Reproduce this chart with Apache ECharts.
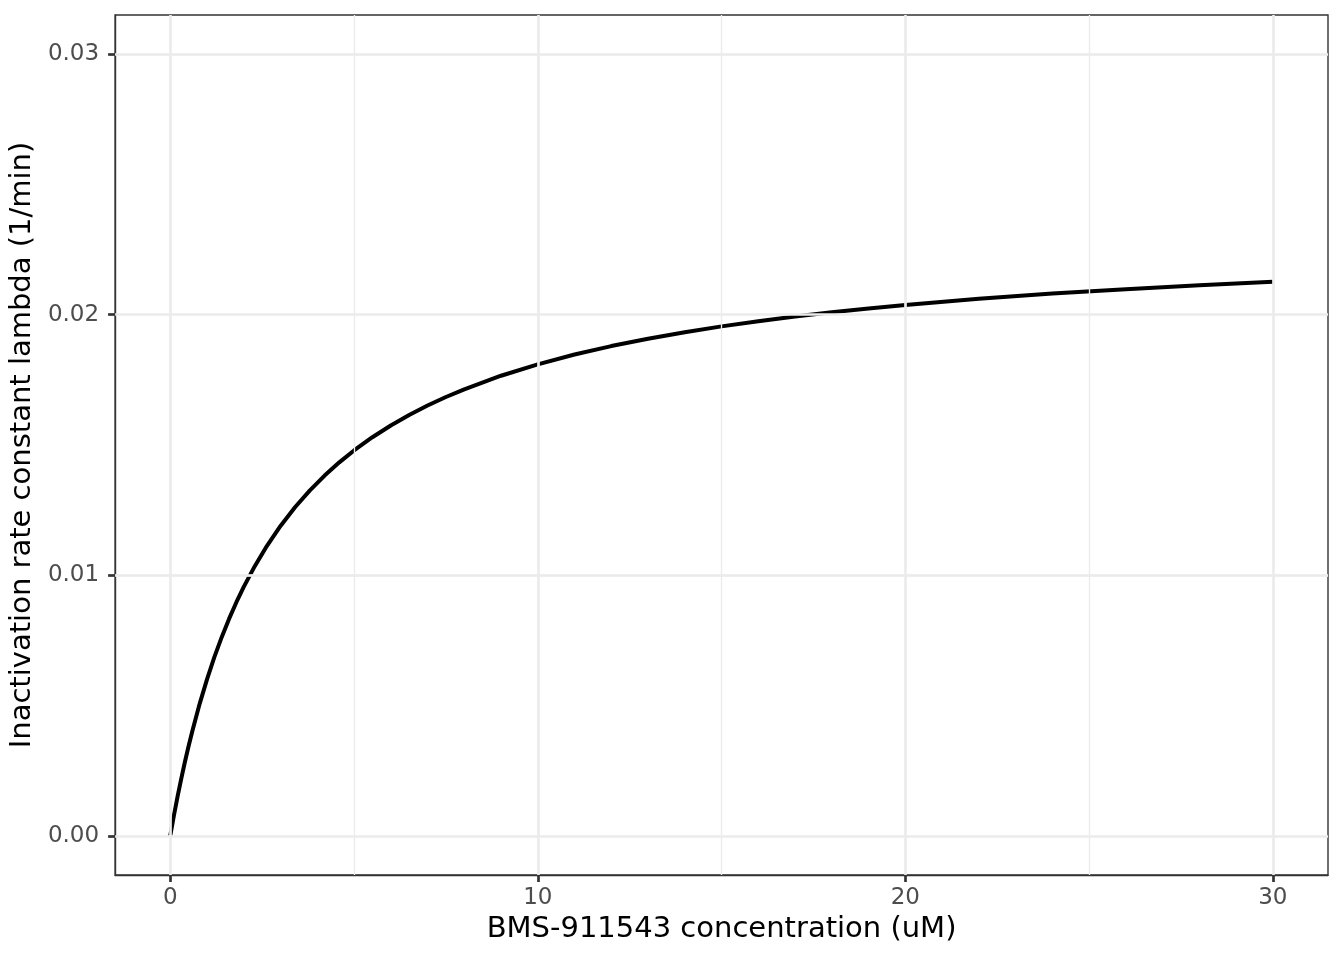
<!DOCTYPE html>
<html>
<head>
<meta charset="utf-8">
<script src="https://cdn.jsdelivr.net/npm/echarts@6/dist/echarts.min.js"></script>
<style>
html,body{margin:0;padding:0;background:#fff;}
#chart{width:1344px;height:960px;}
</style>
</head>
<body>
<div id="chart"></div>
<script>
// concentration (uM)
const xValues = [0, 0.1, 0.2, 0.3, 0.4, 0.5, 0.6, 0.8, 1.0, 1.2, 1.4, 1.6, 1.8, 2.0, 2.3, 2.6, 3.0, 3.4, 3.8, 4.2, 4.6, 5, 5.5, 6, 6.5, 7, 7.5, 8, 9, 10, 11, 12, 13, 14, 15, 16, 17, 18, 19, 20, 22, 24, 26, 28, 30];
// inactivation rate constant lambda (1/min)
const yValues = [0, 0.000783, 0.001514, 0.002200, 0.002844, 0.003449, 0.004020, 0.005069, 0.006009, 0.006858, 0.007626, 0.008327, 0.008967, 0.009555, 0.010351, 0.011061, 0.011894, 0.012621, 0.013261, 0.013828, 0.014335, 0.014791, 0.015299, 0.015749, 0.016152, 0.016514, 0.016841, 0.017138, 0.017658, 0.018096, 0.018471, 0.018796, 0.019080, 0.019330, 0.019552, 0.019751, 0.019930, 0.020092, 0.020238, 0.020372, 0.020608, 0.020809, 0.020981, 0.021132, 0.021264];
const xTicks = [0, 10, 20, 30];
const xMinor = [5, 15, 25];
const yTicks = [0, 0.01, 0.02, 0.03];
const yMinor = [0.005, 0.015, 0.025];
const xTitle = 'BMS-911543 concentration (uM)';
const yTitle = 'Inactivation rate constant lambda (1/min)';

const FONT = 'DejaVu Sans';
const chart = echarts.init(document.getElementById('chart'), null, {renderer: 'canvas'});

const gridLines = [];
xTicks.forEach(v => gridLines.push({xAxis: v, lineStyle: {color: '#ebebeb', width: 2.7, type: 'solid'}}));
xMinor.forEach(v => gridLines.push({xAxis: v, lineStyle: {color: '#ebebeb', width: 1.35, type: 'solid'}}));
yTicks.forEach(v => gridLines.push({yAxis: v, lineStyle: {color: '#ebebeb', width: 2.7, type: 'solid'}}));
yMinor.forEach(v => gridLines.push({yAxis: v, lineStyle: {color: '#ebebeb', width: 1.35, type: 'solid'}}));

const pts = xValues.map((x, i) => [x, yValues[i]]);

chart.setOption({
  animation: false,
  backgroundColor: '#ffffff',
  grid: {left: 115, right: 16, top: 15, bottom: 85, show: true, borderColor: '#333333', borderWidth: 1.4, backgroundColor: 'transparent'},
  xAxis: {
    type: 'value', min: -1.5, max: 31.5,
    name: xTitle, nameLocation: 'middle', nameGap: 39.5,
    nameTextStyle: {fontFamily: FONT, fontSize: 29, color: '#000000'},
    axisLine: {show: true, onZero: false, lineStyle: {color: '#333333', width: 1.4}},
    axisTick: {show: true, length: 7, customValues: xTicks, lineStyle: {color: '#333333', width: 2.7}},
    axisLabel: {show: true, customValues: xTicks, margin: 12, fontFamily: FONT, fontSize: 23, color: '#4d4d4d', formatter: v => String(v)},
    splitLine: {show: false}
  },
  yAxis: {
    type: 'value', min: -0.0015, max: 0.0315,
    name: yTitle, nameLocation: 'middle', nameGap: 74, nameRotate: 90,
    nameTextStyle: {fontFamily: FONT, fontSize: 29, color: '#000000'},
    axisLine: {show: true, onZero: false, lineStyle: {color: '#333333', width: 1.4}},
    axisTick: {show: true, length: 7, customValues: yTicks, lineStyle: {color: '#333333', width: 2.7}},
    axisLabel: {show: true, customValues: yTicks, margin: 16, fontFamily: FONT, fontSize: 23, color: '#4d4d4d', formatter: v => v.toFixed(2)},
    splitLine: {show: false}
  },
  series: [
    {
      type: 'line', z: 1, data: pts, showSymbol: false, silent: true,
      lineStyle: {opacity: 0, width: 0},
      markLine: {silent: true, symbol: ['none', 'none'], label: {show: false}, animation: false, data: gridLines}
    },
    {
      type: 'line', z: 3, data: pts, showSymbol: false, smooth: false, silent: true,
      lineStyle: {color: '#000000', width: 4, cap: 'butt', join: 'round'}
    }
  ]
});
</script>
</body>
</html>
